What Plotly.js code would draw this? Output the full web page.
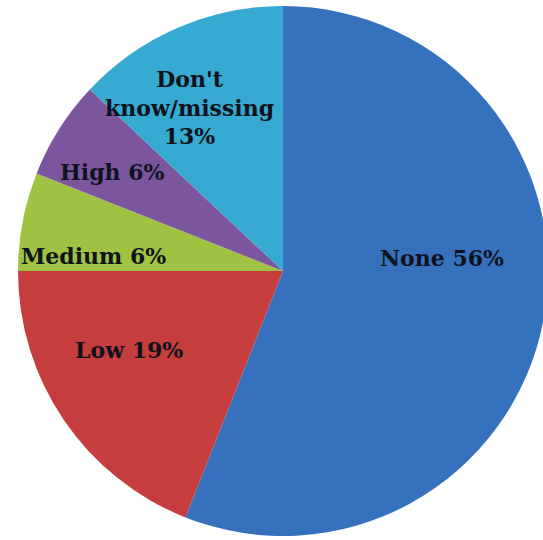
<!DOCTYPE html>
<html>
<head>
<meta charset="utf-8">
<script src="https://cdn.plot.ly/plotly-3.0.1.min.js"></script>
<style>html,body{margin:0;padding:0;background:#fff;overflow:hidden;width:543px;height:540px;}#chart{width:560px;height:540px;}</style>
</head>
<body>
<div id="chart"></div>
<script>
// ---- data ----
var categories = ["None", "Low", "Medium", "High", "Don't know/missing"];
var values = [56, 19, 6, 6, 13];
var labelNames = ["None", "Low", "Medium", "High", "Don't<br>know/missing"];

// ---- styles / layout ----
var sliceColors = ["#3571BC", "#C53D3C", "#9FC242", "#7B569F", "#36AAD0"];
var W = 560, H = 540;
// label centres in pixels (layout only)
var labelPx = [[442, 258], [129, 350], [93, 256], [112, 172], [189, 108]];
var labelSep = [" ", " ", " ", " ", "<br>"];

var total = values.reduce(function (a, b) { return a + b; }, 0);
var annotations = values.map(function (v, i) {
  var pct = Math.round(v / total * 100);
  return {
    xref: "paper", yref: "paper",
    x: labelPx[i][0] / W, y: 1 - labelPx[i][1] / H,
    xanchor: "center", yanchor: "middle",
    showarrow: false, align: "center",
    text: "<b>" + labelNames[i] + labelSep[i] + pct + "%</b>",
    font: { family: "DejaVu Serif", size: 22, color: "#10121c" }
  };
});

var trace = {
  type: "pie",
  labels: categories,
  values: values,
  textinfo: "none",
  sort: false,
  direction: "clockwise",
  rotation: 0,
  marker: { colors: sliceColors, line: { width: 0 } },
  hoverinfo: "label+percent",
  domain: { x: [18 / W, 548 / W], y: [4 / H, 534 / H] }
};

var layout = {
  width: W,
  height: H,
  margin: { l: 0, r: 0, t: 0, b: 0 },
  showlegend: false,
  paper_bgcolor: "#ffffff",
  annotations: annotations
};

Plotly.newPlot("chart", [trace], layout, { staticPlot: true });
</script>
</body>
</html>
